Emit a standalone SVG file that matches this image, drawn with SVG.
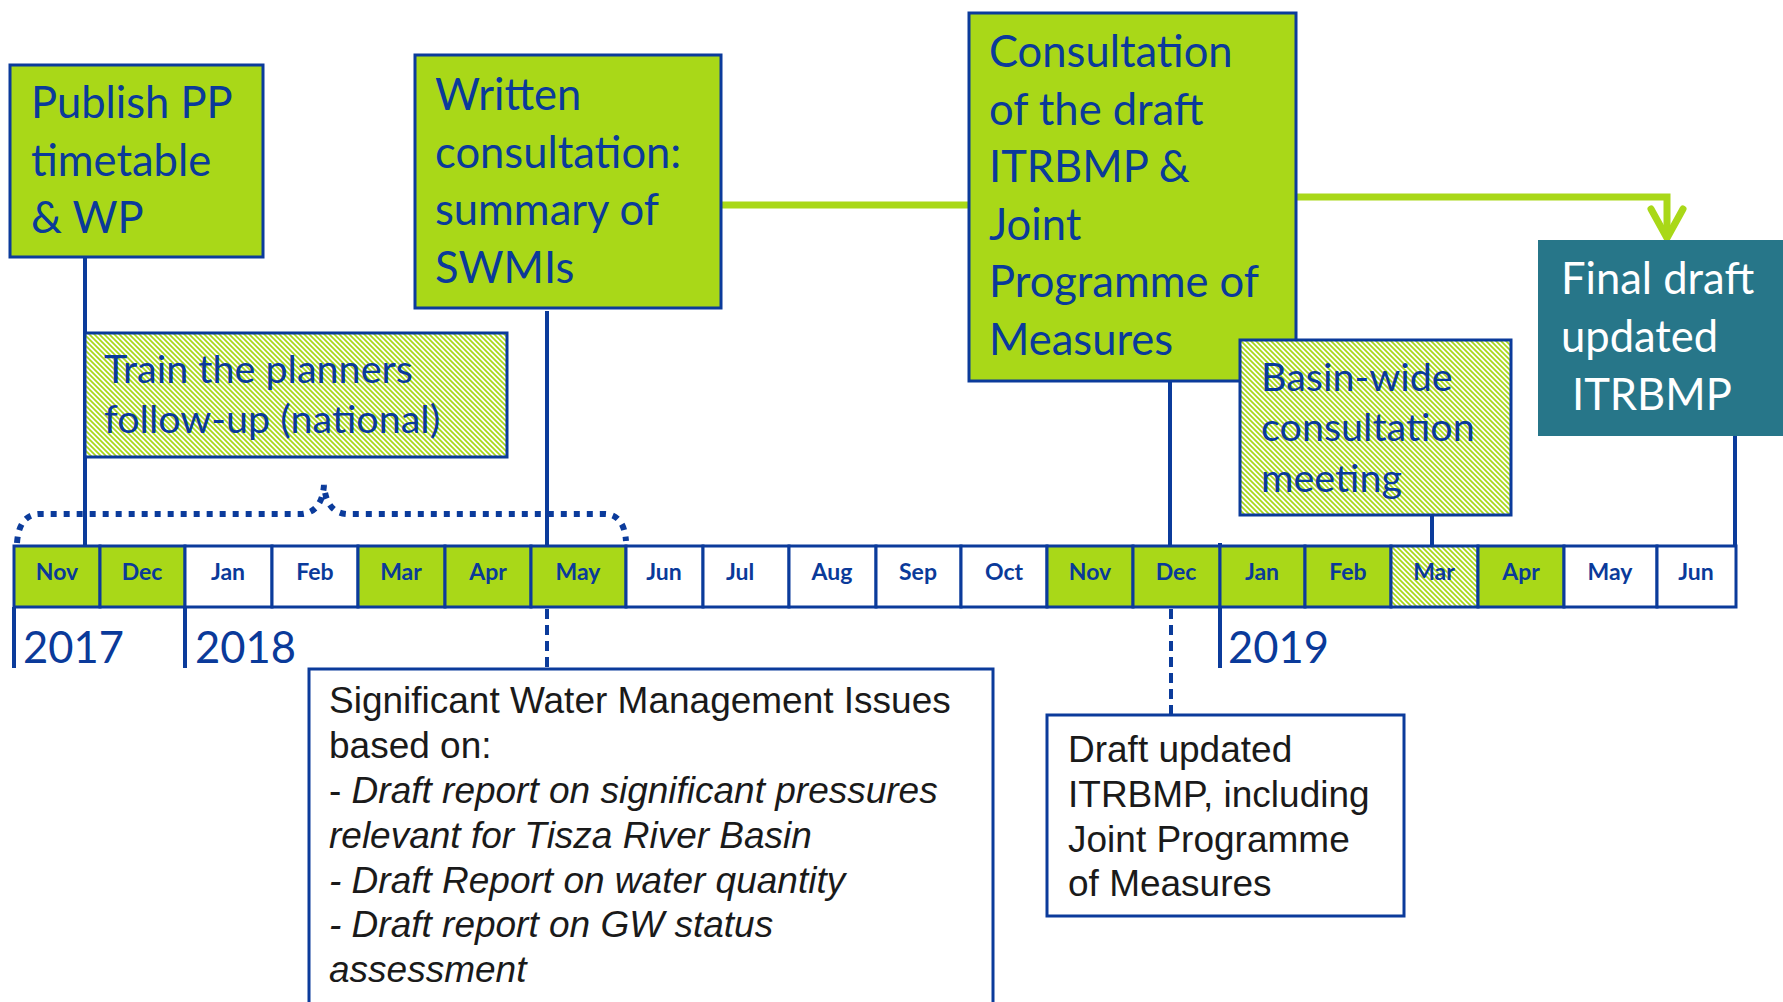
<svg xmlns="http://www.w3.org/2000/svg" width="1783" height="1002" viewBox="0 0 1783 1002">
<defs>
<pattern id="hatch" width="5" height="5" patternUnits="userSpaceOnUse">
<rect width="5" height="5" fill="#ffffff"/>
<path d="M0,0 L5,5 M-1,4 L1,6 M4,-1 L6,1" stroke="#A9D818" stroke-width="1.7"/>
</pattern>
<style>
.gbox{fill:#A9D818;stroke:#0B3B9B;stroke-width:3}
.hbox{fill:url(#hatch);stroke:#0B3B9B;stroke-width:3}
.wbox{fill:#ffffff;stroke:#0B3B9B;stroke-width:3}
.big{font-family:Lato,"Liberation Sans",sans-serif;font-size:43.5px;fill:#0A3A9A}
.mid{font-family:Lato,"Liberation Sans",sans-serif;font-size:39.5px;fill:#0A3A9A}
.wt{fill:#ffffff}
.mon{font-family:Lato,"Liberation Sans",sans-serif;font-size:23px;font-weight:bold;fill:#0A3A9A;text-anchor:middle}
.ar{font-family:"Liberation Sans",Arial,sans-serif;font-size:37px;fill:#1a1a1a}
.it{font-style:italic}
.vl{stroke:#0B3B9B;stroke-width:4;fill:none}
.dl{stroke:#0B3B9B;stroke-width:4;fill:none;stroke-dasharray:10 6}
.gl{stroke:#A9D818;stroke-width:7;fill:none}
.cell{stroke:#0B3B9B;stroke-width:3}
</style>
</defs>
<rect width="1783" height="1002" fill="#ffffff"/>

<g id="connectors">
<line class="vl" x1="85" y1="257" x2="85" y2="546"/>
<line class="vl" x1="547" y1="311" x2="547" y2="546"/>
<line class="vl" x1="1170" y1="381" x2="1170" y2="546"/>
<line class="vl" x1="1432" y1="515" x2="1432" y2="546"/>
<line class="vl" x1="1735" y1="436" x2="1735" y2="546"/>
<line class="vl" x1="14" y1="607" x2="14" y2="668"/>
<line class="vl" x1="185" y1="607" x2="185" y2="668"/>
<line class="vl" x1="1220" y1="543" x2="1220" y2="668"/>
<line class="dl" x1="547" y1="609" x2="547" y2="669"/>
<line class="dl" x1="1171" y1="609" x2="1171" y2="715"/>
<path d="M17,543 Q19,514 40,514 L302,514 Q322,512 324,485 Q326,512 346,514 L604,514 Q624,514 626,541" fill="none" stroke="#0B3B9B" stroke-width="6" stroke-dasharray="6 7"/>
<line class="gl" x1="721" y1="205" x2="969" y2="205"/>
<polyline class="gl" points="1296,197 1667,197 1667,236"/>
<polyline points="1651,209 1667,238 1683,209" fill="none" stroke="#A9D818" stroke-width="7" stroke-linecap="round" stroke-linejoin="round"/>
</g>

<g id="timeline">
<rect class="cell" x="14" y="546" width="86" height="61" fill="#A9D818"/>
<rect class="cell" x="100" y="546" width="85" height="61" fill="#A9D818"/>
<rect class="cell" x="185" y="546" width="87" height="61" fill="#ffffff"/>
<rect class="cell" x="272" y="546" width="86" height="61" fill="#ffffff"/>
<rect class="cell" x="358" y="546" width="87" height="61" fill="#A9D818"/>
<rect class="cell" x="445" y="546" width="86" height="61" fill="#A9D818"/>
<rect class="cell" x="531" y="546" width="95" height="61" fill="#A9D818"/>
<rect class="cell" x="626" y="546" width="77" height="61" fill="#ffffff"/>
<rect class="cell" x="703" y="546" width="86" height="61" fill="#ffffff"/>
<rect class="cell" x="789" y="546" width="87" height="61" fill="#ffffff"/>
<rect class="cell" x="876" y="546" width="85" height="61" fill="#ffffff"/>
<rect class="cell" x="961" y="546" width="86" height="61" fill="#ffffff"/>
<rect class="cell" x="1047" y="546" width="86" height="61" fill="#A9D818"/>
<rect class="cell" x="1133" y="546" width="87" height="61" fill="#A9D818"/>
<rect class="cell" x="1220" y="546" width="85" height="61" fill="#A9D818"/>
<rect class="cell" x="1305" y="546" width="86" height="61" fill="#A9D818"/>
<rect class="cell" x="1391" y="546" width="87" height="61" fill="url(#hatch)"/>
<rect class="cell" x="1478" y="546" width="86" height="61" fill="#A9D818"/>
<rect class="cell" x="1564" y="546" width="93" height="61" fill="#ffffff"/>
<rect class="cell" x="1657" y="546" width="79" height="61" fill="#ffffff"/>
<text class="mon" x="57" y="580">Nov</text>
<text class="mon" x="142" y="580">Dec</text>
<text class="mon" x="228" y="580">Jan</text>
<text class="mon" x="315" y="580">Feb</text>
<text class="mon" x="401" y="580">Mar</text>
<text class="mon" x="488" y="580">Apr</text>
<text class="mon" x="578" y="580">May</text>
<text class="mon" x="664" y="580">Jun</text>
<text class="mon" x="740" y="580">Jul</text>
<text class="mon" x="832" y="580">Aug</text>
<text class="mon" x="918" y="580">Sep</text>
<text class="mon" x="1004" y="580">Oct</text>
<text class="mon" x="1090" y="580">Nov</text>
<text class="mon" x="1176" y="580">Dec</text>
<text class="mon" x="1262" y="580">Jan</text>
<text class="mon" x="1348" y="580">Feb</text>
<text class="mon" x="1434" y="580">Mar</text>
<text class="mon" x="1521" y="580">Apr</text>
<text class="mon" x="1610" y="580">May</text>
<text class="mon" x="1696" y="580">Jun</text>
<text class="big" x="23" y="663">2017</text>
<text class="big" x="195" y="663">2018</text>
<text class="big" x="1228" y="663">2019</text>
</g>

<g id="publish">
<rect class="gbox" x="10" y="65" width="253" height="192"/>
<text class="big" x="31" y="118">Publish PP</text>
<text class="big" x="31" y="176">timetable</text>
<text class="big" x="31" y="233">&amp; WP</text>
</g>

<g id="train">
<rect class="hbox" x="85" y="333" width="422" height="124"/>
<text class="mid" x="104" y="383">Train the planners</text>
<text class="mid" x="104" y="433">follow-up (national)</text>
</g>

<g id="written">
<rect class="gbox" x="415" y="55" width="306" height="253"/>
<text class="big" x="435" y="110">Written</text>
<text class="big" x="435" y="168">consultation:</text>
<text class="big" x="435" y="225">summary of</text>
<text class="big" x="435" y="283">SWMIs</text>
</g>

<g id="consultation">
<rect class="gbox" x="969" y="13" width="327" height="368"/>
<text class="big" x="989" y="67">Consultation</text>
<text class="big" x="989" y="125">of the draft</text>
<text class="big" x="989" y="182">ITRBMP &amp;</text>
<text class="big" x="989" y="240">Joint</text>
<text class="big" x="989" y="297">Programme of</text>
<text class="big" x="989" y="355">Measures</text>
</g>

<g id="basin">
<rect class="hbox" x="1240" y="340" width="271" height="175"/>
<text class="mid" x="1261" y="391">Basin-wide</text>
<text class="mid" x="1261" y="441">consultation</text>
<text class="mid" x="1261" y="492">meeting</text>
</g>

<g id="final">
<rect x="1538" y="240" width="246" height="196" fill="#277689"/>
<text class="big wt" x="1561" y="294">Final draft</text>
<text class="big wt" x="1561" y="352">updated</text>
<text class="big wt" x="1572" y="410">ITRBMP</text>
</g>

<g id="swmi">
<rect class="wbox" x="309" y="669" width="684" height="345"/>
<text class="ar" x="329" y="713">Significant Water Management Issues</text>
<text class="ar" x="329" y="758">based on:</text>
<text class="ar" x="329" y="803">- <tspan class="it">Draft report on significant pressures</tspan></text>
<text class="ar it" x="329" y="848">relevant for Tisza River Basin</text>
<text class="ar it" x="329" y="893">- Draft Report on water quantity</text>
<text class="ar it" x="329" y="937">- Draft report on GW status</text>
<text class="ar it" x="329" y="982">assessment</text>
</g>

<g id="draft">
<rect class="wbox" x="1047" y="715" width="357" height="201"/>
<text class="ar" x="1068" y="762">Draft updated</text>
<text class="ar" x="1068" y="807">ITRBMP, including</text>
<text class="ar" x="1068" y="852">Joint Programme</text>
<text class="ar" x="1068" y="896">of Measures</text>
</g>
</svg>
